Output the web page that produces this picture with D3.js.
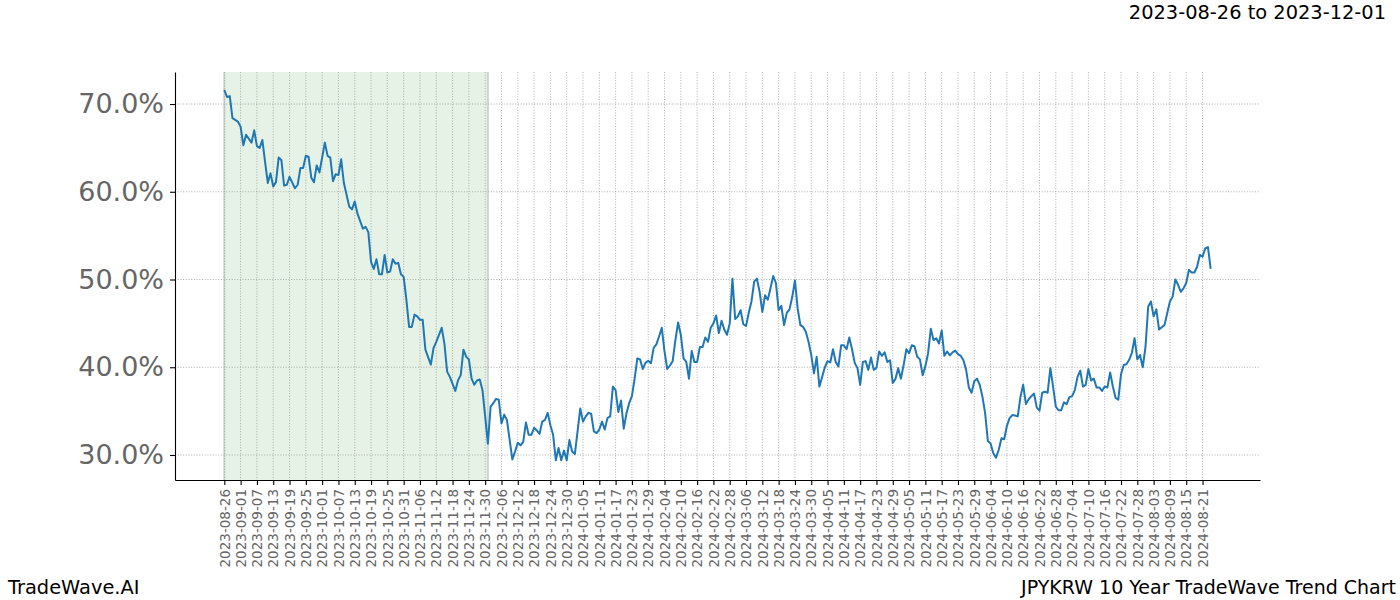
<!DOCTYPE html>
<html>
<head>
<meta charset="utf-8">
<script src="https://cdn.jsdelivr.net/npm/d3@7"></script>
<style>
  body { margin: 0; background: #fff; }
  svg { font-family: "DejaVu Sans", sans-serif; }
</style>
</head>
<body>
<svg id="chart" width="1400" height="600"></svg>
<script>
// JPYKRW trend value per day (index 0 = 2023-08-26), null = not read
const rate = [
  71.6, 70.8, 70.9, 68.4, null, 68.0, 67.4, 65.3, 66.5, null,
  65.6, 67.0, 65.2, 65.0, 65.9, 63.4, 61.0, 62.1, 60.6, 61.1,
  63.9, 63.6, 60.7, 60.8, 61.7, null, 60.4, 60.8, 62.7, 62.7,
  64.1, 64.0, 61.6, 61.1, 63.0, 62.2, null, 65.6, 64.1, 63.9,
  61.2, 62.0, 61.9, 63.7, 61.0, null, 58.3, 58.0, 58.9, 57.5,
  null, 55.8, 56.0, 55.4, 52.0, 51.2, 52.3, 50.6, 50.6, 52.8,
  50.8, 50.9, 52.3, 51.8, 51.9, 50.6, 50.3, 47.7, 44.6, 44.6,
  46.0, 45.8, 45.4, 45.4, 42.0, null, 40.3, 42.2, 42.9, null,
  44.5, 42.7, 39.5, 38.9, null, 37.3, 38.5, 39.1, 42.0, 41.2,
  40.9, 38.7, 38.0, 38.5, 38.6, 37.4, 34.4, 31.3, 35.5, 35.9,
  36.4, 36.3, 33.6, 34.6, 34.0, null, 29.5, 30.4, 31.4, 31.1,
  31.5, 33.7, 32.3, 32.3, 33.1, 32.8, 32.4, 33.8, 34.0, 34.8,
  33.4, 32.3, 29.4, 30.8, 29.4, 30.5, 29.4, 31.7, 30.4, 30.1,
  null, 35.3, 33.8, 34.4, 34.8, 34.7, 32.7, 32.5, 32.9, 33.8,
  32.9, 34.2, 34.4, 37.8, 37.4, 34.9, 36.2, 33.0, 34.75, 35.9,
  36.7, 38.7, 41.0, 40.9, 39.8, 40.5, 40.75, 40.45, 42.2, 42.6,
  43.5, 44.5, 41.8, 39.8, 40.2, 40.7, 43.1, 45.1, 43.7, 41.0,
  40.6, 38.7, 41.85, 40.6, 40.6, 42.3, 42.3, 43.4, 42.9, 44.5,
  45.0, 45.9, 43.9, 45.3, 44.3, 43.7, 45.0, 50.1, 45.5, 45.8,
  46.5, 44.9, 44.7, 46.2, 47.5, 49.75, 50.1, 48.6, 46.3, 48.2,
  47.7, 49.0, 50.4, 49.6, 46.5, 47.0, 44.8, 46.2, 46.6, 48.0,
  49.9, 46.7, 44.8, 44.6, 44.05, 42.9, 41.4, 39.3, 41.2, 37.8,
  38.9, 40.0, 40.7, 40.55, 42.05, 40.6, 40.1, 42.5, 42.5, 42.05,
  43.4, 42.05, 40.5, 39.9, 38.0, 40.6, 40.7, 39.7, 41.1, 39.7,
  39.95, 41.8, 41.3, 41.7, 40.6, 40.8, 38.2, 38.7, 39.9, 38.7,
  40.25, 42.05, 41.6, 42.5, 42.4, 41.2, 40.9, 39.1, 40.1, 41.6,
  44.4, 43.1, 43.3, 42.7, 44.2, 41.3, 41.8, 41.35, 41.7, 41.9,
  41.5, 41.3, 40.8, 39.7, 37.7, 37.1, 38.4, 38.7, 38.0, 36.65,
  34.75, 31.6, 31.3, 30.2, 29.7, 30.6, 31.9, 31.8, 33.3, 34.2,
  34.55, 34.5, 34.4, 36.65, 38.0, 35.8, 36.35, 36.7, 37.0, 35.4,
  35.05, 37.1, 37.2, 37.1, 39.9, 37.8, 35.5, 35.1, 35.1, 36.0,
  35.8, 36.6, 36.7, 37.4, 38.9, 39.6, 37.8, 38.0, 39.8, 38.5,
  38.7, 37.7, 37.7, 37.3, 37.8, 37.7, 39.4, 37.8, 36.5, 36.3,
  39.2, 40.25, 40.35, 40.85, 41.65, 43.3, 40.9, 41.4, 40.0, 42.3,
  46.9, 47.5, 45.8, 46.6, 44.3, 44.55, 44.8, 46.15, 47.5, 48.05,
  50.0, 49.4, 48.6, 49.0, 49.6, 51.1, 50.8, 50.8, 51.45, 52.8,
  52.6, 53.55, 53.7, 51.2
];

// x tick labels, one every 6 points
const tickLabels = [
  "2023-08-26", "2023-09-01", "2023-09-07", "2023-09-13", "2023-09-19", "2023-09-25",
  "2023-10-01", "2023-10-07", "2023-10-13", "2023-10-19", "2023-10-25", "2023-10-31",
  "2023-11-06", "2023-11-12", "2023-11-18", "2023-11-24", "2023-11-30", "2023-12-06",
  "2023-12-12", "2023-12-18", "2023-12-24", "2023-12-30", "2024-01-05", "2024-01-11",
  "2024-01-17", "2024-01-23", "2024-01-29", "2024-02-04", "2024-02-10", "2024-02-16",
  "2024-02-22", "2024-02-28", "2024-03-06", "2024-03-12", "2024-03-18", "2024-03-24",
  "2024-03-30", "2024-04-05", "2024-04-11", "2024-04-17", "2024-04-23", "2024-04-29",
  "2024-05-05", "2024-05-11", "2024-05-17", "2024-05-23", "2024-05-29", "2024-06-04",
  "2024-06-10", "2024-06-16", "2024-06-22", "2024-06-28", "2024-07-04", "2024-07-10",
  "2024-07-16", "2024-07-22", "2024-07-28", "2024-08-03", "2024-08-09", "2024-08-15",
  "2024-08-21"
];
const tickStep = 6;

const yTicks = [30, 40, 50, 60, 70];

// highlighted trend window (index range)
const spanStart = 0;
const spanEnd = 97;

const titleText = "2023-08-26 to 2023-12-01";
const leftFooter = "TradeWave.AI";
const rightFooter = "JPYKRW 10 Year TradeWave Trend Chart";

// plot box
const plotLeft = 175, plotRight = 1260, plotTop = 72, plotBottom = 480;

const svg = d3.select("#chart");

const points = rate.map((v, i) => ({ i: i, v: v })).filter(d => d.v !== null);

// 5% padding like matplotlib
const n = rate.length - 1;
const x = d3.scaleLinear()
    .domain([-n * 0.05, n * 1.05])
    .range([plotLeft, plotRight]);

const y = d3.scaleLinear()
    .domain([27.15, 73.65])
    .range([plotBottom, plotTop]);

const tickIdx = tickLabels.map((d, k) => k * tickStep);

// shaded window
svg.append("rect")
    .attr("x", x(spanStart))
    .attr("y", plotTop)
    .attr("width", x(spanEnd) - x(spanStart))
    .attr("height", plotBottom - plotTop)
    .attr("fill", "#e6f2e6");

[spanStart, spanEnd].forEach(s => {
    svg.append("line")
        .attr("x1", x(s)).attr("x2", x(s))
        .attr("y1", plotTop).attr("y2", plotBottom)
        .attr("stroke", "#cdd6cd")
        .attr("stroke-width", 2);
});

// grid
const grid = svg.append("g")
    .attr("stroke", "#9a9a9a")
    .attr("stroke-width", 0.8)
    .attr("stroke-dasharray", "1,1.7");

grid.selectAll(".gx")
    .data(tickIdx)
    .enter()
    .append("line")
    .attr("x1", d => x(d)).attr("x2", d => x(d))
    .attr("y1", plotTop).attr("y2", plotBottom);

grid.selectAll(".gy")
    .data(yTicks)
    .enter()
    .append("line")
    .attr("x1", plotLeft).attr("x2", plotRight)
    .attr("y1", d => y(d)).attr("y2", d => y(d));

// the line
const line = d3.line()
    .x(d => x(d.i))
    .y(d => y(d.v));

svg.append("path")
    .datum(points)
    .attr("fill", "none")
    .attr("stroke", "#1f77b4")
    .attr("stroke-width", 2)
    .attr("stroke-linejoin", "round")
    .attr("d", line);

// axes
const xAxis = svg.append("g")
    .attr("transform", `translate(0,${plotBottom})`)
    .call(d3.axisBottom(x)
        .tickValues(tickIdx)
        .tickFormat((d, k) => tickLabels[k])
        .tickSize(5)
        .tickSizeOuter(0));

xAxis.selectAll("text")
    .attr("transform", "rotate(-90)")
    .attr("text-anchor", "end")
    .attr("x", -9)
    .attr("y", 0)
    .attr("dy", "0.35em")
    .attr("fill", "#666")
    .attr("font-size", "13.5px")
    .attr("font-family", "DejaVu Sans");

const yAxis = svg.append("g")
    .attr("transform", `translate(${plotLeft},0)`)
    .call(d3.axisLeft(y)
        .tickValues(yTicks)
        .tickFormat(d => d.toFixed(1) + "%")
        .tickSize(5)
        .tickPadding(6)
        .tickSizeOuter(0));

yAxis.selectAll("text")
    .attr("fill", "#666")
    .attr("font-size", "27px")
    .attr("font-family", "DejaVu Sans");

svg.selectAll(".domain").attr("stroke", "#000").attr("stroke-width", 1.1);
svg.selectAll(".tick line").attr("stroke", "#000").attr("stroke-width", 1.1);

// texts around
svg.append("text")
    .attr("x", 1386).attr("y", 19)
    .attr("text-anchor", "end")
    .attr("font-size", "19.4px")
    .text(titleText);

svg.append("text")
    .attr("x", 8).attr("y", 594)
    .attr("font-size", "19.4px")
    .text(leftFooter);

svg.append("text")
    .attr("x", 1396).attr("y", 594)
    .attr("text-anchor", "end")
    .attr("font-size", "19px")
    .text(rightFooter);
</script>
</body>
</html>
